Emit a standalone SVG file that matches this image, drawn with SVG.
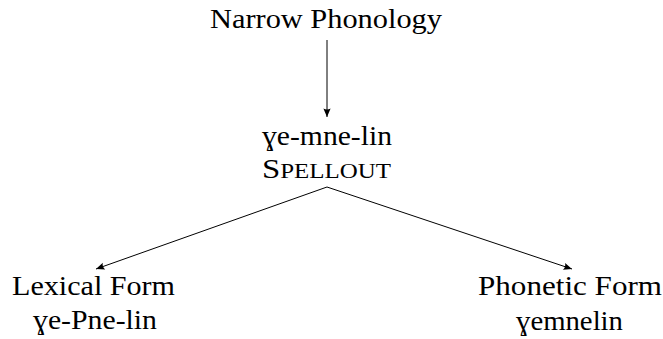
<svg xmlns="http://www.w3.org/2000/svg" width="663" height="339" viewBox="0 0 663 339">
<style>
text { font-family: 'Liberation Serif', 'DejaVu Serif', serif; font-size: 27px; fill: #000; }
.sc { font-size: 20.5px; }
.edge { stroke: #000; stroke-width: 1; fill: none; marker-end: url(#arr); }
</style>
<defs>
<marker id="arr" viewBox="-9 -5 10 10" refX="0" refY="0" markerWidth="10" markerHeight="10" markerUnits="userSpaceOnUse" orient="auto">
<path d="M0,0 L-8.5,-3.6 Q-6.3,0 -8.5,3.6 Z" fill="#000"/>
</marker>
</defs>
<rect width="663" height="339" fill="#fff"/>
<g id="connectors">
<line class="edge" x1="327" y1="40" x2="327" y2="117"/>
<line class="edge" x1="327" y1="187" x2="96" y2="269"/>
<line class="edge" x1="327" y1="187" x2="572" y2="269"/>
</g>
<g id="narrow-phonology">
<text x="210" y="28" textLength="232" lengthAdjust="spacingAndGlyphs">Narrow Phonology</text>
</g>
<g id="spellout">
<text x="262" y="145" textLength="130" lengthAdjust="spacingAndGlyphs">ɣe-mne-lin</text>
<text x="262" y="178" textLength="129" lengthAdjust="spacingAndGlyphs">S<tspan class="sc">PELLOUT</tspan></text>
</g>
<g id="lexical-form">
<text x="12" y="295" textLength="163" lengthAdjust="spacingAndGlyphs">Lexical Form</text>
<text x="33" y="329" textLength="124" lengthAdjust="spacingAndGlyphs">ɣe-Pne-lin</text>
</g>
<g id="phonetic-form">
<text x="478" y="295" textLength="184" lengthAdjust="spacingAndGlyphs">Phonetic Form</text>
<text x="516" y="330" textLength="107" lengthAdjust="spacingAndGlyphs">ɣemnelin</text>
</g>
</svg>
